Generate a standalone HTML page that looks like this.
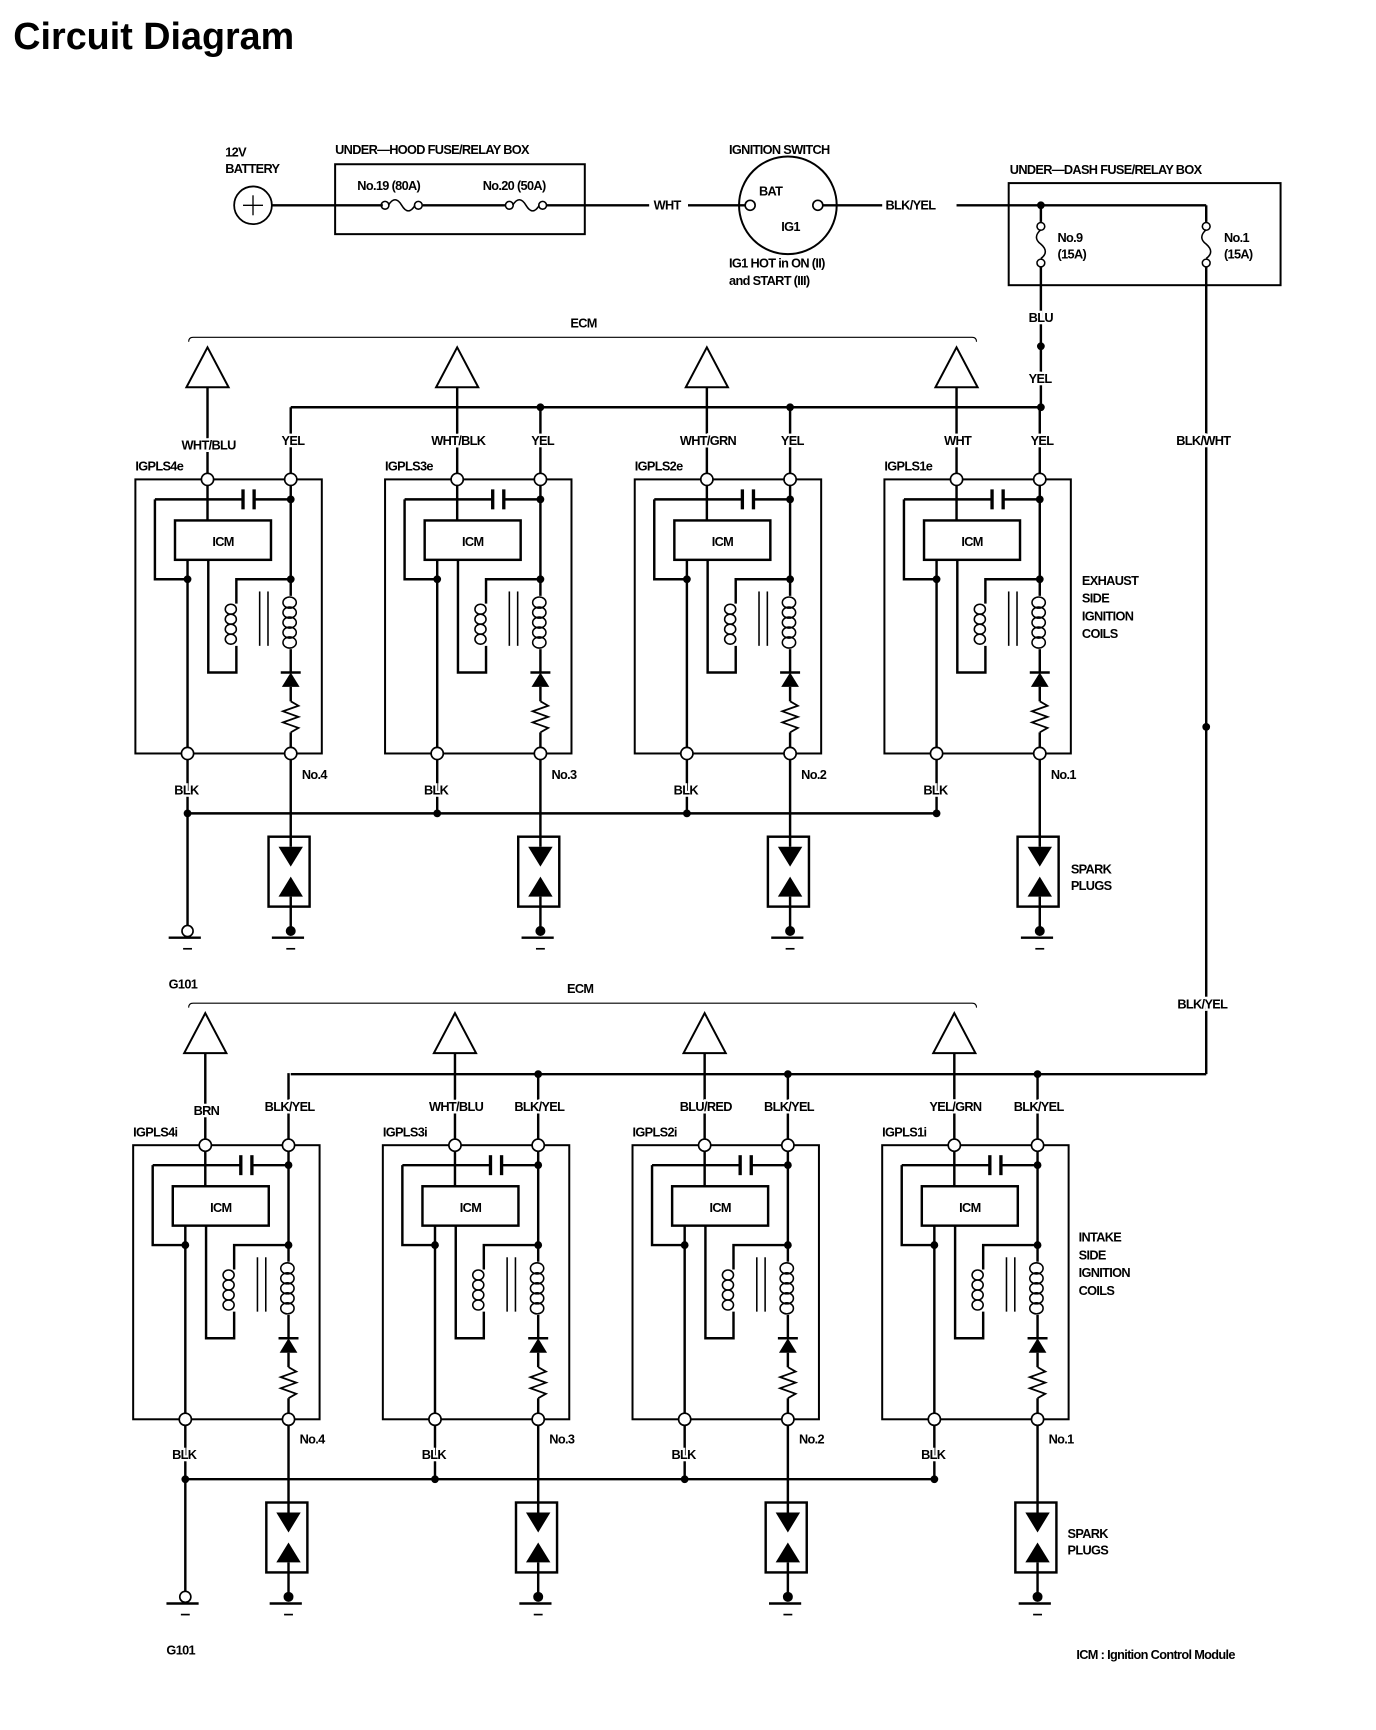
<!DOCTYPE html>
<html><head><meta charset="utf-8"><style>
html,body{margin:0;padding:0;background:#fff}
svg{display:block}
text{font-family:"Liberation Sans",Arial,sans-serif;font-weight:bold;font-size:11.5px;fill:#000;letter-spacing:-0.6px}
.lb{stroke:#fff;stroke-width:4px;paint-order:stroke}
</style></head><body>
<svg width="1376" height="1730" viewBox="0 0 1240 1559" preserveAspectRatio="none" xmlns="http://www.w3.org/2000/svg">
<defs>
<g id="m" stroke="#000" stroke-width="2.2" fill="none">
  <polygon points="187,313 168,349 206,349" fill="#fff" stroke-width="1.8"/>
  <line x1="187" y1="349" x2="187" y2="469"/>
  <line x1="262" y1="367" x2="262" y2="537"/>
  <rect x="122" y="432" width="168" height="247" stroke-width="1.8"/>
  <line x1="139.6" y1="450" x2="219" y2="450"/>
  <line x1="219" y1="441" x2="219" y2="459" stroke-width="3"/>
  <line x1="229" y1="441" x2="229" y2="459" stroke-width="3"/>
  <line x1="229" y1="450" x2="262" y2="450"/>
  <polyline points="139.6,450 139.6,522 169,522"/>
  <rect x="157.7" y="469" width="86.5" height="35.5" fill="#fff"/>
  <line x1="169" y1="504" x2="169" y2="733"/>
  <polyline points="187.7,504 187.7,606 213,606 213,582"/>
  <polyline points="213,544 213,522 262,522"/>
  <g stroke-width="1.4">
    <ellipse cx="208" cy="549" rx="5" ry="4.5"/><ellipse cx="208" cy="558" rx="5" ry="4.5"/>
    <ellipse cx="208" cy="567" rx="5" ry="4.5"/><ellipse cx="208" cy="576" rx="5" ry="4.5"/>
    <ellipse cx="261" cy="543" rx="6" ry="5"/><ellipse cx="261" cy="552" rx="6" ry="5"/>
    <ellipse cx="261" cy="561" rx="6" ry="5"/><ellipse cx="261" cy="570" rx="6" ry="5"/>
    <ellipse cx="261" cy="579" rx="6" ry="5"/>
    <line x1="234" y1="533" x2="234" y2="582"/><line x1="241.5" y1="533" x2="241.5" y2="582"/>
  </g>
  <line x1="262" y1="585" x2="262" y2="606"/>
  <line x1="253" y1="606" x2="271" y2="606"/>
  <polygon points="262,606 254,619 270,619" fill="#000" stroke="none"/>
  <line x1="262" y1="619" x2="262" y2="632"/>
  <polyline points="262,632 269,636 255,641 269,646 255,651 269,656 262,660" stroke-width="1.6"/>
  <line x1="262" y1="660" x2="262" y2="763"/>
  <rect x="242" y="754" width="37" height="63"/>
  <polygon points="251,763 273,763 262,781" fill="#000" stroke="none"/>
  <polygon points="262,790 251,808 273,808" fill="#000" stroke="none"/>
  <line x1="262" y1="808" x2="262" y2="839"/>
  <line x1="245" y1="845" x2="274" y2="845"/>
  <line x1="258" y1="855" x2="266" y2="855" stroke-width="1.5"/>
  <circle cx="262" cy="839" r="4.5" fill="#000" stroke="none"/>
  <circle cx="262" cy="450" r="3.5" fill="#000" stroke="none"/>
  <circle cx="262" cy="522" r="3.5" fill="#000" stroke="none"/>
  <circle cx="169" cy="522" r="3.5" fill="#000" stroke="none"/>
  <circle cx="169" cy="733" r="3.5" fill="#000" stroke="none"/>
  <g fill="#fff" stroke-width="1.5">
    <circle cx="187" cy="432" r="5.5"/><circle cx="262" cy="432" r="5.5"/>
    <circle cx="169" cy="679" r="5.5"/><circle cx="262" cy="679" r="5.5"/>
  </g>
</g>
<g id="gnd" stroke="#000" stroke-width="2.2" fill="none">
  <line x1="169" y1="733" x2="169" y2="834"/>
  <circle cx="169" cy="839" r="5" fill="#fff" stroke-width="1.5"/>
  <line x1="152" y1="845" x2="181" y2="845"/>
  <line x1="165" y1="855" x2="173" y2="855" stroke-width="1.5"/>
  <line x1="169" y1="733" x2="844" y2="733"/>
</g>
</defs>

<text x="12" y="44" style="font-size:34px;letter-spacing:0px">Circuit Diagram</text>

<g stroke="#000" stroke-width="2.2" fill="none">
  <circle cx="228" cy="185" r="17" stroke-width="1.6"/>
  <line x1="228" y1="176" x2="228" y2="194" stroke-width="1.2"/><line x1="219" y1="185" x2="237" y2="185" stroke-width="1.2"/>
  <line x1="245" y1="185" x2="345" y2="185"/>
  <rect x="302" y="148" width="225" height="63" stroke-width="1.8"/>
  <circle cx="347" cy="185" r="3.5" stroke-width="1.4"/><path d="M350,185 q6,-10 12,0 q6,10 12,0" stroke-width="1.4"/><circle cx="377" cy="185" r="3.5" stroke-width="1.4"/>
  <line x1="381" y1="185" x2="456" y2="185"/>
  <circle cx="459" cy="185" r="3.5" stroke-width="1.4"/><path d="M462,185 q6,-10 12,0 q6,10 12,0" stroke-width="1.4"/><circle cx="489" cy="185" r="3.5" stroke-width="1.4"/>
  <line x1="492" y1="185" x2="585" y2="185"/>
  <line x1="620" y1="185" x2="672" y2="185"/>
  <circle cx="710" cy="185" r="44" stroke-width="1.8"/>
  <circle cx="676" cy="185" r="4.5" fill="#fff" stroke-width="1.5"/>
  <circle cx="737" cy="185" r="4.5" fill="#fff" stroke-width="1.5"/>
  <line x1="742" y1="185" x2="795" y2="185"/>
  <line x1="862" y1="185" x2="1087" y2="185"/>
  <rect x="909" y="165" width="245" height="92" stroke-width="1.8"/>
  <line x1="938" y1="185" x2="938" y2="200"/>
  <circle cx="938" cy="204" r="3.5" stroke-width="1.4"/><path d="M938,207 q-8,7 0,13 q8,7 0,13" stroke-width="1.4"/><circle cx="938" cy="237" r="3.5" stroke-width="1.4"/>
  <line x1="1087" y1="185" x2="1087" y2="200"/>
  <circle cx="1087" cy="204" r="3.5" stroke-width="1.4"/><path d="M1087,207 q-8,7 0,13 q8,7 0,13" stroke-width="1.4"/><circle cx="1087" cy="237" r="3.5" stroke-width="1.4"/>
  <line x1="938" y1="241" x2="938" y2="367"/>
  <line x1="1087" y1="241" x2="1087" y2="968"/>
  <line x1="262" y1="367" x2="938" y2="367"/>
  <line x1="262" y1="968" x2="1087" y2="968"/>
  <path d="M170,308 q0,-4 4,-4 L876,304 q4,0 4,4" stroke-width="1"/>
  <path d="M170,908 q0,-4 4,-4 L876,904 q4,0 4,4" stroke-width="1"/>
</g>
<g fill="#000">
  <circle cx="938" cy="185" r="3.5"/><circle cx="938" cy="312" r="3.5"/><circle cx="1087" cy="655" r="3.5"/>
  <circle cx="487" cy="367" r="3.5"/><circle cx="712" cy="367" r="3.5"/><circle cx="938" cy="367" r="3.5"/>
  <circle cx="485" cy="968" r="3.5"/><circle cx="710" cy="968" r="3.5"/><circle cx="935" cy="968" r="3.5"/>
</g>

<use href="#m" x="0" y="0"/><use href="#m" x="225" y="0"/><use href="#m" x="450" y="0"/><use href="#m" x="675" y="0"/>
<use href="#gnd" x="0" y="0"/>
<use href="#m" x="-2" y="600"/><use href="#m" x="223" y="600"/><use href="#m" x="448" y="600"/><use href="#m" x="673" y="600"/>
<use href="#gnd" x="-2" y="600"/>

<text x="203" y="141">12V</text><text x="203" y="156">BATTERY</text>
<text x="302" y="139">UNDER—HOOD FUSE/RELAY BOX</text>
<text x="322" y="171">No.19 (80A)</text><text x="435" y="171">No.20 (50A)</text>
<text x="589" y="189">WHT</text>
<text x="657" y="139">IGNITION SWITCH</text>
<text x="684" y="176">BAT</text><text x="704" y="208">IG1</text>
<text x="657" y="241">IG1 HOT in ON (II)</text><text x="657" y="257">and START (III)</text>
<text x="798" y="189">BLK/YEL</text>
<text x="910" y="157">UNDER—DASH FUSE/RELAY BOX</text>
<text x="953" y="218">No.9</text><text x="953" y="233">(15A)</text>
<text x="1103" y="218">No.1</text><text x="1103" y="233">(15A)</text>
<text x="927" y="290" class="lb">BLU</text>
<text x="927" y="345" class="lb">YEL</text>
<text x="1060" y="401" class="lb">BLK/WHT</text>
<text x="1061" y="909" class="lb">BLK/YEL</text>
<text x="514" y="295">ECM</text><text x="511" y="895">ECM</text>

<g text-anchor="middle">
<text x="188" y="405" class="lb">WHT/BLU</text><text x="264" y="401" class="lb">YEL</text>
<text x="413" y="401" class="lb">WHT/BLK</text><text x="489" y="401" class="lb">YEL</text>
<text x="638" y="401" class="lb">WHT/GRN</text><text x="714" y="401" class="lb">YEL</text>
<text x="863" y="401" class="lb">WHT</text><text x="939" y="401" class="lb">YEL</text>
<text x="168" y="716" class="lb">BLK</text><text x="393" y="716" class="lb">BLK</text>
<text x="618" y="716" class="lb">BLK</text><text x="843" y="716" class="lb">BLK</text>
<text x="186" y="1005" class="lb">BRN</text><text x="261" y="1001" class="lb">BLK/YEL</text>
<text x="411" y="1001" class="lb">WHT/BLU</text><text x="486" y="1001" class="lb">BLK/YEL</text>
<text x="636" y="1001" class="lb">BLU/RED</text><text x="711" y="1001" class="lb">BLK/YEL</text>
<text x="861" y="1001" class="lb">YEL/GRN</text><text x="936" y="1001" class="lb">BLK/YEL</text>
<text x="166" y="1315" class="lb">BLK</text><text x="391" y="1315" class="lb">BLK</text>
<text x="616" y="1315" class="lb">BLK</text><text x="841" y="1315" class="lb">BLK</text>
</g>
<text x="122" y="424">IGPLS4e</text><text x="347" y="424">IGPLS3e</text><text x="572" y="424">IGPLS2e</text><text x="797" y="424">IGPLS1e</text>
<text x="120" y="1024">IGPLS4i</text><text x="345" y="1024">IGPLS3i</text><text x="570" y="1024">IGPLS2i</text><text x="795" y="1024">IGPLS1i</text>
<text x="272" y="702">No.4</text><text x="497" y="702">No.3</text><text x="722" y="702">No.2</text><text x="947" y="702">No.1</text>
<text x="270" y="1301">No.4</text><text x="495" y="1301">No.3</text><text x="720" y="1301">No.2</text><text x="945" y="1301">No.1</text>
<text x="975" y="527">EXHAUST</text><text x="975" y="543">SIDE</text><text x="975" y="559">IGNITION</text><text x="975" y="575">COILS</text>
<text x="972" y="1119">INTAKE</text><text x="972" y="1135">SIDE</text><text x="972" y="1151">IGNITION</text><text x="972" y="1167">COILS</text>
<text x="965" y="787">SPARK</text><text x="965" y="802">PLUGS</text>
<text x="962" y="1386">SPARK</text><text x="962" y="1401">PLUGS</text>
<text x="152" y="891">G101</text><text x="150" y="1491">G101</text>
<text x="970" y="1495">ICM : Ignition Control Module</text>
<g text-anchor="middle">
<text x="201" y="492">ICM</text><text x="426" y="492">ICM</text><text x="651" y="492">ICM</text><text x="876" y="492">ICM</text>
<text x="199" y="1092">ICM</text><text x="424" y="1092">ICM</text><text x="649" y="1092">ICM</text><text x="874" y="1092">ICM</text>
</g>
</svg>
</body></html>
